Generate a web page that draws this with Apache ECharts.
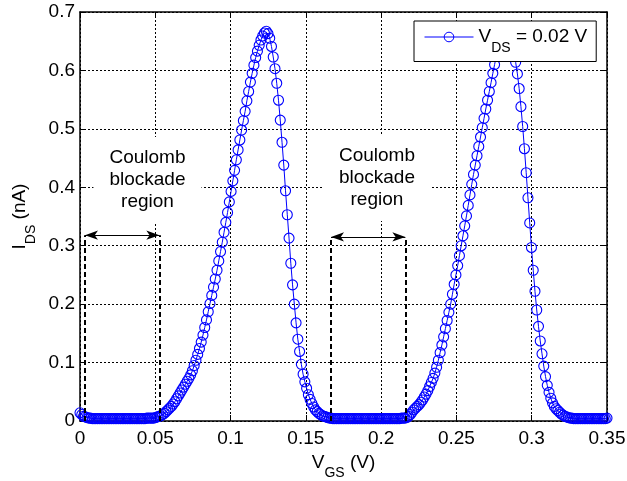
<!DOCTYPE html>
<html><head><meta charset="utf-8">
<script src="https://cdn.jsdelivr.net/npm/echarts@6/dist/echarts.min.js"></script>
<style>html,body{margin:0;padding:0;background:#fff}#c{width:627px;height:481px}</style>
</head><body><div id="c"></div>
<script>
// V_GS sampling grid (simulation sweep) and I_DS values
const vgsMin = 0, vgsMax = 0.35, vgsSamples = 301;
const idsValues = [
0.014,0.011,0.008,0.007,0.006,0.005,0.005,0.004,0.004,0.004,
0.004,0.004,0.004,0.004,0.004,0.004,0.004,0.004,0.004,0.004,
0.004,0.004,0.004,0.004,0.004,0.004,0.004,0.004,0.004,0.004,
0.004,0.004,0.004,0.004,0.004,0.004,0.004,0.004,0.005,0.005,
0.005,0.005,0.005,0.006,0.007,0.008,0.009,0.011,0.013,0.016,
0.019,0.022,0.025,0.029,0.033,0.038,0.043,0.048,0.053,0.058,
0.063,0.068,0.073,0.079,0.086,0.095,0.104,0.114,0.124,0.135,
0.147,0.160,0.173,0.187,0.201,0.215,0.229,0.243,0.258,0.274,
0.290,0.306,0.323,0.340,0.357,0.375,0.393,0.411,0.429,0.447,
0.464,0.481,0.498,0.514,0.530,0.548,0.564,0.580,0.595,0.609,
0.622,0.633,0.643,0.652,0.659,0.664,0.667,0.663,0.655,0.641,
0.623,0.603,0.578,0.549,0.515,0.477,0.438,0.394,0.353,0.313,
0.270,0.233,0.200,0.168,0.140,0.119,0.097,0.080,0.067,0.056,
0.045,0.037,0.030,0.024,0.019,0.016,0.013,0.011,0.009,0.008,
0.007,0.006,0.005,0.005,0.004,0.004,0.004,0.004,0.004,0.004,
0.004,0.004,0.004,0.004,0.004,0.004,0.004,0.004,0.004,0.004,
0.004,0.004,0.004,0.004,0.004,0.004,0.004,0.004,0.004,0.004,
0.004,0.004,0.004,0.004,0.004,0.004,0.004,0.004,0.004,0.004,
0.004,0.004,0.004,0.005,0.005,0.005,0.006,0.008,0.011,0.015,
0.019,0.022,0.025,0.028,0.032,0.036,0.041,0.046,0.052,0.059,
0.066,0.073,0.082,0.092,0.104,0.117,0.130,0.144,0.158,0.172,
0.186,0.200,0.217,0.234,0.250,0.266,0.283,0.300,0.317,0.334,
0.351,0.369,0.387,0.405,0.422,0.438,0.454,0.470,0.486,0.502,
0.518,0.534,0.549,0.564,0.579,0.595,0.610,0.624,0.637,0.648,
0.657,0.663,0.667,0.668,0.664,0.657,0.645,0.630,0.614,0.594,
0.569,0.538,0.504,0.466,0.425,0.382,0.339,0.297,0.258,0.222,
0.190,0.162,0.137,0.115,0.094,0.076,0.061,0.049,0.039,0.031,
0.025,0.021,0.018,0.015,0.012,0.010,0.008,0.007,0.006,0.005,
0.005,0.004,0.004,0.004,0.004,0.004,0.004,0.004,0.004,0.004,
0.004,0.004,0.004,0.004,0.004,0.004,0.004,0.004,0.004,0.004,
0.005
];
const xTickLabels = ['0','0.05','0.1','0.15','0.2','0.25','0.3','0.35'];
const yTickLabels = ['0','0.1','0.2','0.3','0.4','0.5','0.6','0.7'];
const seriesName = 'VDS = 0.02 V';
// Coulomb blockade annotations (data units)
const blockadeLeft = [0.0033, 0.1667];
const blockadeRight = [0.0527, 0.2161];
const arrowLevel = [0.318, 0.315];
const noteX = [0.0448, 0.1972];
const noteY = [0.4125, 0.416];
const noteText = 'Coulomb\nblockade\nregion';

const FONT = '"Liberation Sans", Arial, Helvetica, sans-serif';
const points = idsValues.map((v, i) => [vgsMin + i * (vgsMax - vgsMin) / (vgsSamples - 1), v]);
const rich = (pad) => ({
  v: {fontSize: 19, fontFamily: FONT, color: '#000', lineHeight: 20, verticalAlign: 'top'},
  s: {fontSize: 14, fontFamily: FONT, color: '#000', lineHeight: 14, verticalAlign: 'top', padding: [pad, 0, 0, 0]}
});

const dashedLines = [];
const arrows = [];
blockadeLeft.forEach((xl, k) => {
  const xr = blockadeRight[k], lv = arrowLevel[k];
  dashedLines.push([{coord: [xl, 0]}, {coord: [xl, lv]}]);
  dashedLines.push([{coord: [xr, 0]}, {coord: [xr, lv]}]);
  arrows.push([{coord: [xl, lv]}, {coord: [xr, lv]}]);
});

const chart = echarts.init(document.getElementById('c'), null, {renderer: 'canvas'});
const axisCommon = {
  type: 'value',
  axisLine: {show: true, onZero: false, lineStyle: {color: '#000', width: 1.5}},
  axisTick: {show: true, inside: true, length: 6, lineStyle: {color: '#000', width: 1}},
};
chart.setOption({
  animation: false,
  backgroundColor: '#fff',
  textStyle: {fontFamily: FONT},
  grid: {left: 80, right: 20, top: 12, bottom: 60, outerBoundsMode: 'none'},
  legend: {
    data: [seriesName],
    left: 414, top: 21,
    padding: [6, 9, 6, 10],
    borderColor: '#000', borderWidth: 1, backgroundColor: '#fff', borderRadius: 0,
    itemWidth: 49, itemHeight: 12, itemGap: 0,
    itemStyle: {color: 'rgba(0,0,0,0)', borderColor: '#0000ff', borderWidth: 1},
    lineStyle: {color: '#0000ff', width: 1},
    formatter: () => '{v|V}{s|DS}{v| = 0.02 V}',
    textStyle: {rich: rich(14.5)},
    selectedMode: false
  },
  xAxis: [
    Object.assign({}, axisCommon, {
      min: 0, max: 0.35, interval: 0.05, position: 'bottom',
      axisLabel: {margin: 8, fontSize: 19, color: '#000', fontFamily: FONT,
        formatter: v => xTickLabels[Math.round(v / 0.05)]},
      splitLine: {show: true, lineStyle: {color: '#000', width: 1, type: [2, 2]}},
      name: '{v|V}{s|GS}{v| (V)}', nameLocation: 'middle', nameGap: 30,
      nameTextStyle: {rich: rich(13.5)}
    }),
    Object.assign({}, axisCommon, {
      min: 0, max: 0.35, interval: 0.05, position: 'top',
      axisLabel: {show: false}, splitLine: {show: false}
    })
  ],
  yAxis: [
    Object.assign({}, axisCommon, {
      min: 0, max: 0.7, interval: 0.1, position: 'left',
      axisLabel: {margin: 5, fontSize: 19, color: '#000', fontFamily: FONT,
        formatter: v => yTickLabels[Math.round(v / 0.1)]},
      splitLine: {show: true, lineStyle: {color: '#000', width: 1, type: [2, 2]}},
      name: '{v|I}{s|DS}{v| (nA)}', nameLocation: 'middle', nameGap: 44, nameRotate: 90,
      nameTextStyle: {rich: rich(13.5)}
    }),
    Object.assign({}, axisCommon, {
      min: 0, max: 0.7, interval: 0.1, position: 'right',
      axisLabel: {show: false}, splitLine: {show: false}
    })
  ],
  series: [
    {
      name: seriesName, type: 'line', xAxisIndex: 0, yAxisIndex: 0,
      data: points, symbol: 'circle', symbolSize: 10, showSymbol: true,
      lineStyle: {color: '#0000ff', width: 1},
      itemStyle: {color: 'rgba(0,0,0,0)', borderColor: '#0000ff', borderWidth: 1.1},
      emphasis: {disabled: true}, silent: true, z: 3
    },
    {
      name: 'dashed', type: 'line', data: [], silent: true, z: 4,
      markLine: {silent: true, symbol: ['none', 'none'], label: {show: false},
        lineStyle: {color: '#000', width: 2, type: [5, 3]}, emphasis: {disabled: true},
        animation: false, data: dashedLines}
    },
    {
      name: 'arrows', type: 'line', data: [], silent: true, z: 4,
      markLine: {silent: true, symbol: ['arrow', 'arrow'], symbolSize: [7, 13], label: {show: false},
        lineStyle: {color: '#000', width: 1, type: 'solid'}, itemStyle: {color: '#000'},
        emphasis: {disabled: true}, animation: false, data: arrows}
    }
  ]
});

const notePts = noteX.map((x, k) => chart.convertToPixel({xAxisIndex: 0, yAxisIndex: 0}, [x, noteY[k]]));
chart.setOption({
  graphic: notePts.map(p => ({
    type: 'text', x: p[0], y: p[1], z: 100, silent: true,
    style: {text: noteText, fontSize: 19, fontFamily: FONT, fill: '#000',
      align: 'center', verticalAlign: 'middle', lineHeight: 22,
      backgroundColor: '#fff', padding: [10, 16]}
  }))
});
</script></body></html>
